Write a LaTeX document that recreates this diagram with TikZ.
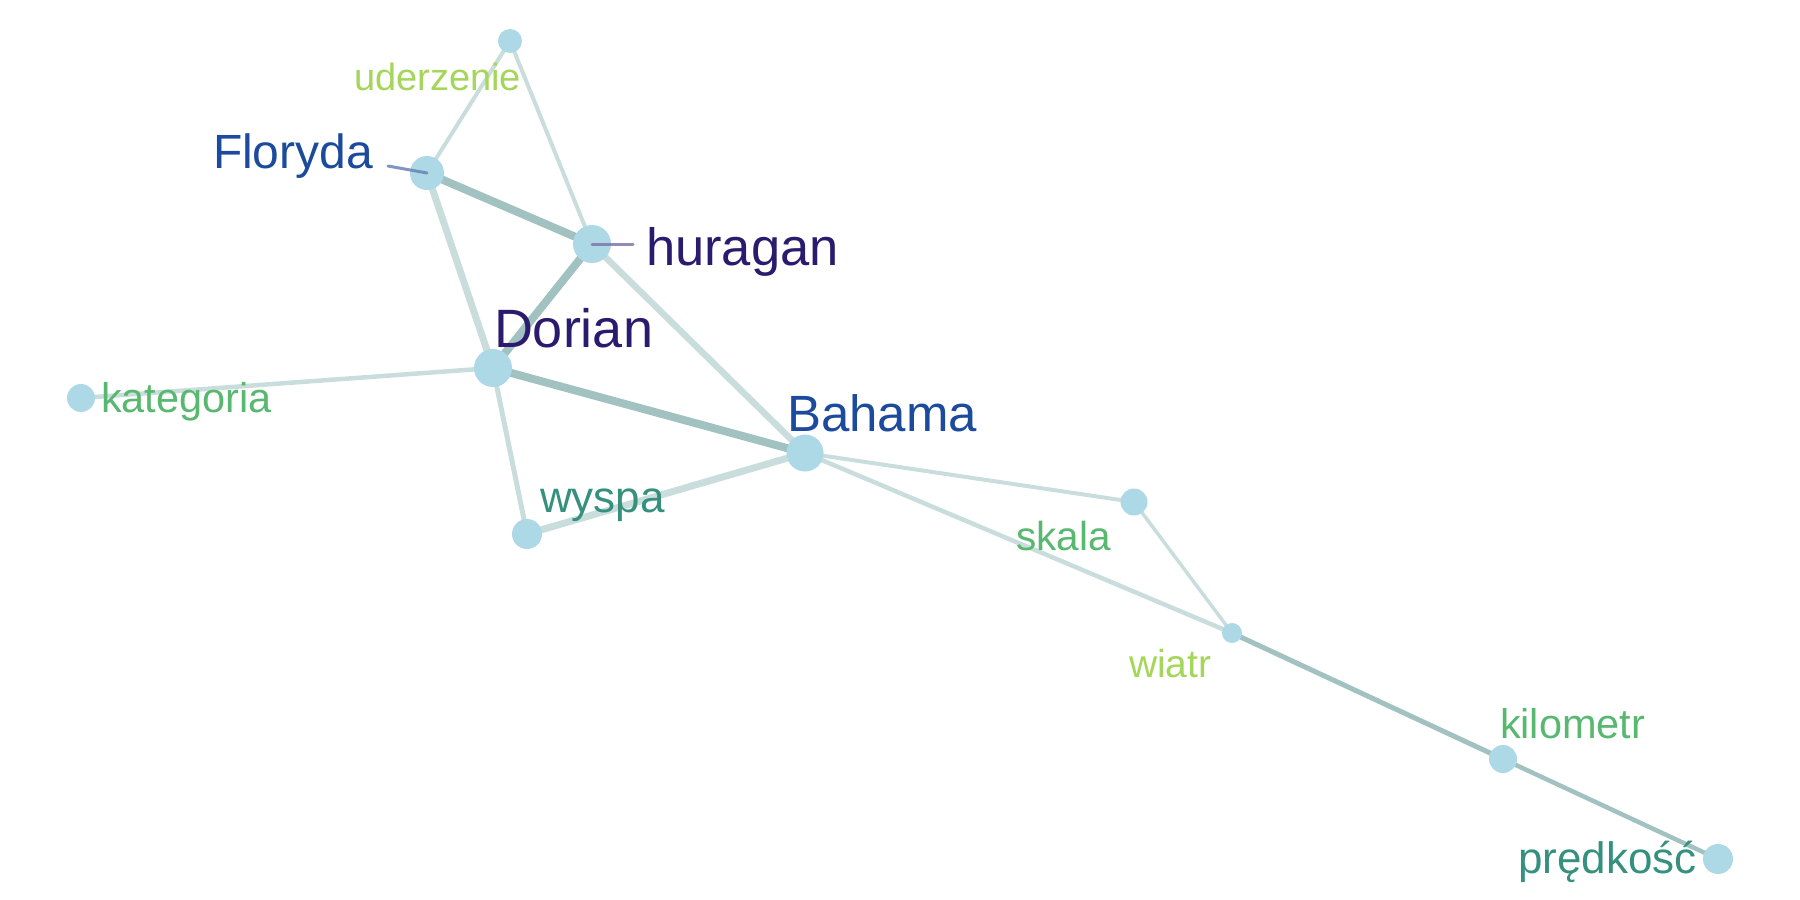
\documentclass[tikz,border=0pt]{standalone}
\usepackage{fontspec}
\setmainfont{Liberation Sans}
\usetikzlibrary{backgrounds}
\definecolor{nodefill}{HTML}{ADD8E6}
\definecolor{edgelight}{HTML}{CADDDD}
\definecolor{edgedark}{HTML}{A2C2C2}
\definecolor{cpurple}{HTML}{2B1B6E}
\definecolor{cblue}{HTML}{1C4A9C}
\definecolor{cteal}{HTML}{35907E}
\definecolor{cgreen}{HTML}{58B870}
\definecolor{clime}{HTML}{A4D65A}
\definecolor{leadblue}{HTML}{6A82B8}
\definecolor{leadpurple}{HTML}{8076A8}
\tikzset{
  vert/.style={circle, fill=nodefill, inner sep=0pt, minimum size=#1},
  lbl/.style={anchor=base west, inner sep=0pt, outer sep=0pt},
  light/.style={draw=edgelight, line width=#1},
  dark/.style={draw=edgedark, line width=#1},
  leader/.style={line width=3pt, line cap=round, opacity=0.85},
}
\newcommand{\fs}[1]{\fontsize{#1}{#1}\selectfont}
\begin{document}
\begin{tikzpicture}[x=1pt, y=-1pt]
\useasboundingbox (0,0) rectangle (1800,900);
% vertices
\node[vert=24pt] (ud) at (510,41) {};
\node[vert=34pt] (fl) at (427,173) {};
\node[vert=38pt] (hu) at (592,244) {};
\node[vert=38pt] (do) at (493,368) {};
\node[vert=37pt] (ba) at (805,453) {};
\node[vert=28pt] (ka) at (81,398) {};
\node[vert=30pt] (wy) at (527,534) {};
\node[vert=27pt] (sk) at (1134,502) {};
\node[vert=20pt] (wi) at (1232,633) {};
\node[vert=28pt] (ki) at (1503,759) {};
\node[vert=30pt] (pr) at (1718,859) {};
% edges
\begin{scope}[on background layer]
\draw[light=4pt] (ud.center) -- (fl.center);
\draw[light=4pt] (ud.center) -- (hu.center);
\draw[dark=8pt] (fl.center) -- (hu.center);
\draw[light=7pt] (fl.center) -- (do.center);
\draw[dark=8pt] (hu.center) -- (do.center);
\draw[light=6.5pt] (hu.center) -- (ba.center);
\draw[dark=8pt] (do.center) -- (ba.center);
\draw[light=4.5pt] (do.center) -- (ka.center);
\draw[light=5pt] (do.center) -- (wy.center);
\draw[light=7pt] (wy.center) -- (ba.center);
\draw[light=4pt] (ba.center) -- (sk.center);
\draw[light=4.5pt] (ba.center) -- (wi.center);
\draw[light=3.5pt] (sk.center) -- (wi.center);
\draw[dark=5pt] (wi.center) -- (ki.center);
\draw[dark=4.5pt] (ki.center) -- (pr.center);
\end{scope}
% leader lines
\coordinate (flL) at (388,166);
\coordinate (huL) at (633,244);
\draw[leader, leadblue] (fl.center) -- (flL);
\draw[leader, leadpurple] (hu.center) -- (huL);
% labels
\node[lbl, text=clime] (tud) at (354,90) {\fs{38}uderzenie};
\node[lbl, text=cblue] (tfl) at (213,168) {\fs{48}Floryda};
\node[lbl, text=cpurple] (thu) at (646,265) {\fs{52.5}huragan};
\node[lbl, text=cpurple] (tdo) at (494,347) {\fs{54}Dorian};
\node[lbl, text=cblue] (tba) at (787,431) {\fs{51}Bahama};
\node[lbl, text=cgreen] (tka) at (101,412) {\fs{41.5}kategoria};
\node[lbl, text=cteal] (twy) at (540,512) {\fs{44}wyspa};
\node[lbl, text=cgreen] (tsk) at (1016,550) {\fs{40.5}skala};
\node[lbl, text=clime] (twi) at (1129,677) {\fs{39}wiatr};
\node[lbl, text=cgreen] (tki) at (1500,738) {\fs{41.5}kilometr};
\node[lbl, text=cteal] (tpr) at (1518,873) {\fs{44}prędkość};
\end{tikzpicture}
\end{document}
